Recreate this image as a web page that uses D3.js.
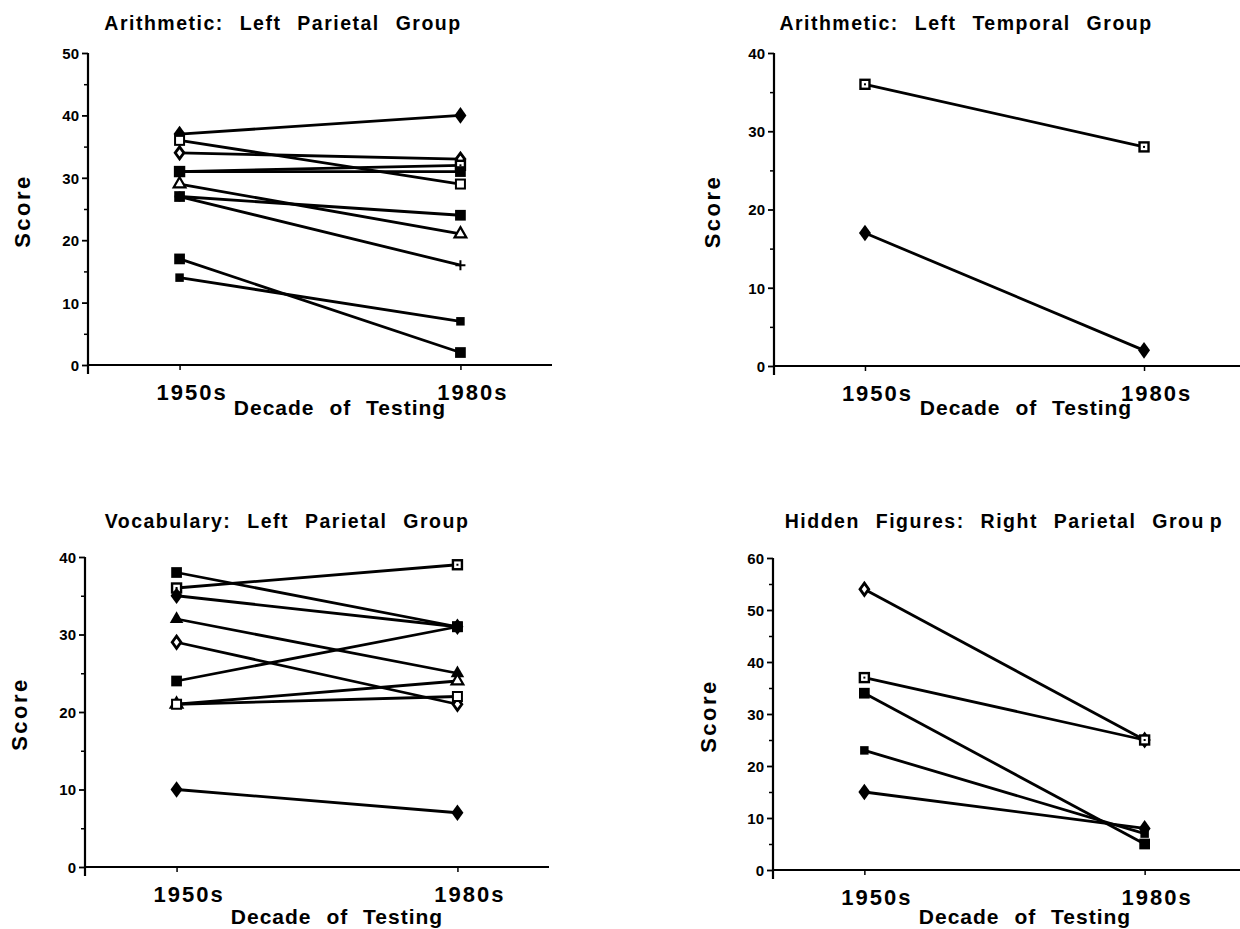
<!DOCTYPE html>
<html>
<head>
<meta charset="utf-8">
<script src="https://cdn.jsdelivr.net/npm/d3@7"></script>
<style>
  html, body { margin: 0; padding: 0; background: #fff; }
  svg { display: block; }
  text { font-family: "Liberation Sans", Arial, Helvetica, sans-serif; font-weight: bold; fill: #000; }
  .tick text.ylab { font-family: "Liberation Sans Narrow", "Liberation Sans", Arial, sans-serif; }
</style>
</head>
<body>
<script>
// Decades of testing (x categories)
const decades = ["1950s", "1980s"];

// Arithmetic: Left Parietal Group
const arithParietal1950 = [37, 36, 34, 31, 31, 29, 27, 27, 17, 14];
const arithParietal1980 = [40, 29, 33, 32, 31, 21, 24, 16, 2, 7];
const arithParietalMarks = ["diamond", "openSquare", "openDiamond", "dotSquare", "square", "openTriangle", "square", "plus", "square", "smallSquare"];

// Arithmetic: Left Temporal Group
const arithTemporal1950 = [36, 17];
const arithTemporal1980 = [28, 2];
const arithTemporalMarks = ["dotSquare", "diamond"];

// Vocabulary: Left Parietal Group
const vocabParietal1950 = [38, 36, 35, 32, 29, 24, 21, 21, 10];
const vocabParietal1980 = [31, 39, 31, 25, 21, 31, 24, 22, 7];
const vocabParietalMarks = ["square", "dotSquare", "diamond", "triangle", "openDiamond", "square", "openTriangle", "openSquare", "diamond"];

// Hidden Figures: Right Parietal Group
const hiddenParietal1950 = [54, 37, 34, 23, 15];
const hiddenParietal1980 = [25, 25, 5, 7, 8];
const hiddenParietalMarks = ["openDiamond", "dotSquare", "square", "smallSquare", "diamond"];

// Y tick values per panel
const ticks50 = [0, 10, 20, 30, 40, 50];
const ticks40 = [0, 10, 20, 30, 40];
const ticks60 = [0, 10, 20, 30, 40, 50, 60];

const W = 1240, H = 929;
const svg = d3.select("body").append("svg").attr("width", W).attr("height", H);

// Marker drawing: each kind gets its own glyph
function drawMarker(g, kind) {
  const sym = (type, size) => d3.symbol().type(type).size(size)();
  switch (kind) {
    case "square":
      g.append("path").attr("d", sym(d3.symbolSquare, 115)).attr("fill", "#000");
      break;
    case "smallSquare":
      g.append("path").attr("d", sym(d3.symbolSquare, 72)).attr("fill", "#000");
      break;
    case "openSquare":
      g.append("rect").attr("x", -4.5).attr("y", -4.5).attr("width", 9).attr("height", 9)
        .attr("fill", "#fff").attr("stroke", "#000").attr("stroke-width", 2);
      break;
    case "dotSquare":
      g.append("rect").attr("x", -4.5).attr("y", -4.5).attr("width", 9).attr("height", 9)
        .attr("fill", "#fff").attr("stroke", "#000").attr("stroke-width", 2.4);
      g.append("rect").attr("x", -1).attr("y", -1).attr("width", 2).attr("height", 2).attr("fill", "#000");
      break;
    case "diamond":
      g.append("path").attr("d", sym(d3.symbolDiamond, 80)).attr("fill", "#000")
        .attr("transform", "scale(1.25,1)");
      break;
    case "openDiamond":
      g.append("path").attr("d", sym(d3.symbolDiamond, 42)).attr("transform", "scale(1.25,1)")
        .attr("fill", "#fff").attr("stroke", "#000").attr("stroke-width", 2.4);
      break;
    case "triangle":
      g.append("path").attr("d", sym(d3.symbolTriangle, 80)).attr("fill", "#000");
      break;
    case "openTriangle":
      g.append("path").attr("d", sym(d3.symbolTriangle, 60))
        .attr("fill", "#fff").attr("stroke", "#000").attr("stroke-width", 2.2);
      break;
    case "plus":
      g.append("path").attr("d", "M-5,0H5M0,-5V5").attr("stroke", "#000").attr("stroke-width", 2);
      break;
  }
}

function panel(cfg) {
  const g = svg.append("g");
  const x = d3.scalePoint().domain(decades)
    .range([cfg.left, cfg.left + cfg.axisLen]).padding(0.326);
  const y = d3.scaleLinear().domain([0, cfg.ticks[cfg.ticks.length - 1]])
    .range([cfg.bottom, cfg.top]);

  // Title; the last letter sits slightly apart in the bottom-right panel
  const t = g.append("text").attr("x", cfg.titleX).attr("y", cfg.titleY)
    .attr("text-anchor", "middle").style("font-size", "19.5px")
    .style("letter-spacing", "1.5px").style("word-spacing", "9px");
  if (cfg.titleTail) {
    t.append("tspan").text(cfg.title);
    t.append("tspan").attr("dx", 5).text(cfg.titleTail);
  } else {
    t.text(cfg.title);
  }

  // Minor y ticks at every 5 units
  const minor = d3.range(5, y.domain()[1], 10);
  g.append("g").attr("transform", `translate(${cfg.left},0)`)
    .call(d3.axisLeft(y).tickValues(minor).tickSize(4).tickFormat(""))
    .call(a => a.select(".domain").remove())
    .selectAll("line").attr("stroke", "#000").attr("stroke-width", 1.5);

  // Major y ticks with labels
  const ya = g.append("g").attr("transform", `translate(${cfg.left},0)`)
    .call(d3.axisLeft(y).tickValues(cfg.ticks).tickSize(6).tickPadding(3).tickFormat(d3.format("d")));
  ya.select(".domain").remove();
  ya.selectAll("line").attr("stroke", "#000").attr("stroke-width", 1.8);
  ya.selectAll("text").attr("class", "ylab").style("font-size", "15px").attr("dy", "0.36em");

  // Y axis line, running a little below the baseline
  g.append("line").attr("x1", cfg.left).attr("x2", cfg.left)
    .attr("y1", y.range()[1]).attr("y2", y(0) + 9)
    .attr("stroke", "#000").attr("stroke-width", 2.2);

  // X axis
  const xa = g.append("g").attr("transform", `translate(0,${y(0)})`)
    .call(d3.axisBottom(x).tickSize(5).tickSizeOuter(0).tickPadding(14));
  xa.select(".domain").attr("d", `M${cfg.left},0H${cfg.right}`)
    .attr("stroke", "#000").attr("stroke-width", 2);
  xa.selectAll("line").attr("stroke", "#000").attr("stroke-width", 1.5);
  xa.selectAll("text").style("font-size", "22px").style("letter-spacing", "2px")
    .attr("dx", 12).attr("dy", "0.71em");

  // X axis title
  g.append("text").attr("x", cfg.left + 252).attr("y", y(0) + cfg.xTitleDy)
    .attr("text-anchor", "middle").style("font-size", "21px")
    .style("letter-spacing", "1px").style("word-spacing", "8px")
    .text("Decade of Testing");

  // Y axis title
  g.append("text")
    .attr("transform", `translate(${cfg.scoreX},${(y.range()[0] + y.range()[1]) / 2 + 2}) rotate(-90)`)
    .attr("text-anchor", "middle").attr("dy", "0.35em")
    .style("font-size", "22px").style("letter-spacing", "2.5px")
    .text("Score");

  // Connecting lines, one per subject
  const rows = cfg.v1950.map((v, i) => ({ a: v, b: cfg.v1980[i], mark: cfg.marks[i] }));
  g.append("g").selectAll("line").data(rows).join("line")
    .attr("x1", x(decades[0])).attr("x2", x(decades[1]))
    .attr("y1", d => y(d.a)).attr("y2", d => y(d.b))
    .attr("stroke", "#000").attr("stroke-width", 2.8);

  // Markers at both ends
  const mk = g.append("g");
  rows.forEach(d => {
    drawMarker(mk.append("g").attr("transform", `translate(${x(decades[0])},${y(d.a)})`), d.mark);
    drawMarker(mk.append("g").attr("transform", `translate(${x(decades[1])},${y(d.b)})`), d.mark);
  });
}

panel({
  title: "Arithmetic: Left Parietal Group", titleX: 283, titleY: 30,
  left: 88, right: 552, axisLen: 464, top: 53, bottom: 365, ticks: ticks50,
  scoreX: 22, xTitleDy: 50,
  v1950: arithParietal1950, v1980: arithParietal1980, marks: arithParietalMarks
});
panel({
  title: "Arithmetic: Left Temporal Group", titleX: 966, titleY: 30,
  left: 774, right: 1240, axisLen: 461, top: 53, bottom: 366, ticks: ticks40,
  scoreX: 712, xTitleDy: 49,
  v1950: arithTemporal1950, v1980: arithTemporal1980, marks: arithTemporalMarks
});
panel({
  title: "Vocabulary: Left Parietal Group", titleX: 287, titleY: 528,
  left: 85, right: 549, axisLen: 464, top: 557, bottom: 867, ticks: ticks40,
  scoreX: 19, xTitleDy: 57,
  v1950: vocabParietal1950, v1980: vocabParietal1980, marks: vocabParietalMarks
});
panel({
  title: "Hidden Figures: Right Parietal Grou", titleTail: "p", titleX: 1004, titleY: 528,
  left: 773, right: 1240, axisLen: 463, top: 558, bottom: 870, ticks: ticks60,
  scoreX: 708, xTitleDy: 54,
  v1950: hiddenParietal1950, v1980: hiddenParietal1980, marks: hiddenParietalMarks
});
</script>
</body>
</html>
